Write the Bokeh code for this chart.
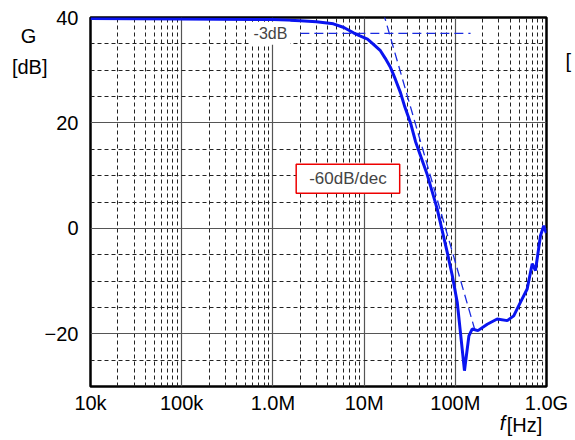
import numpy as np
from bokeh.plotting import figure
from bokeh.models import FixedTicker, Label, Range1d, LinearAxis, LogAxis
from bokeh.embed import file_html
from bokeh.resources import INLINE

# ---- data ----
freq_hz = [1e4, 1e5, 1e6, 2.0e6, 3.0e6, 4.6e6, 6.0e6, 7.65e6, 9.0e6, 10.9e6,
           12.5e6, 15.1e6, 17.0e6, 19.5e6, 22.0e6, 25.1e6, 28.0e6,
           32.3e6, 36.6e6, 49.2e6, 63.1e6, 81.5e6, 92.5e6, 105e6, 119e6, 126e6,
           141e6, 153e6, 177e6, 224e6, 288e6, 371e6, 437e6, 519e6, 614e6,
           697e6, 757e6, 859e6, 933e6, 993e6]
gain_db = [39.8, 39.7, 39.6, 39.4, 39.2, 38.8, 38.1, 37.1, 36.5, 35.9,
           35.0, 33.7, 32.3, 30.5, 28.3, 25.7, 23.0,
           20.0, 16.5, 10.2, 3.8, -4.5, -8.9, -14.0, -22.9, -27.0,
           -20.4, -19.1, -19.4, -18.2, -17.2, -17.5, -16.6, -14.0, -11.5,
           -6.7, -8.0, -1.4, 0.5, -0.9]

asym_f = [16.2e6, 166e6]      # -60 dB/dec asymptote
asym_g = [41.0, -19.6]
m3db_f = [2.0e6, 147e6]       # -3 dB reference line
m3db_g = [37.0, 37.0]

x_ticks = [1e4, 1e5, 1e6, 1e7, 1e8, 1e9]
x_tick_labels = ["10k", "100k", "1.0M", "10M", "100M", "1.0G"]
x_minor = [k * 10.0 ** d for d in range(4, 9) for k in range(2, 10)]
y_ticks = [-20, 0, 20, 40]
y_minor = [-25, -15, -10, -5, 5, 10, 15, 25, 30, 35]

FONT = "Liberation Sans"
W, H = 575, 438

p = figure(width=W, height=H, x_axis_type="log",
           x_range=Range1d(1e4, 1e9), y_range=Range1d(-30, 40),
           output_backend="svg", toolbar_location=None,
           min_border_left=90, min_border_top=17,
           min_border_right=29, min_border_bottom=49)

p.background_fill_color = "white"
p.border_fill_color = "white"
p.outline_line_color = "black"
p.outline_line_width = 2.5


def style_axis(ax, size="20px"):
    ax.axis_line_color = None
    ax.major_tick_out = 0
    ax.major_tick_in = 0
    ax.minor_tick_out = 0
    ax.minor_tick_in = 0
    ax.major_label_text_font = FONT
    ax.major_label_text_font_size = size
    ax.major_label_text_color = "black"


# main axes
p.xaxis.ticker = FixedTicker(ticks=x_ticks, minor_ticks=x_minor)
p.xaxis.major_label_overrides = {float(t): l for t, l in zip(x_ticks, x_tick_labels)}
p.yaxis.ticker = FixedTicker(ticks=y_ticks, minor_ticks=y_minor)
for ax in (p.xaxis, p.yaxis):
    style_axis(ax)
p.xaxis.major_label_standoff = 5
p.yaxis.major_label_standoff = 12

# axis titles drawn as extra (tick-less) axes outside the frame
G_Y, DB_Y = 36.4, 30.65
ytitle = LinearAxis(ticker=FixedTicker(ticks=[G_Y, DB_Y], minor_ticks=[]),
                    major_label_overrides={G_Y: "G\u00a0\u00a0", DB_Y: "[dB]"},
                    major_label_standoff=-6)
style_axis(ytitle)
p.add_layout(ytitle, "left")

F_X, HZ_X = 3.29e8, 5.74e8
xt_f = LogAxis(ticker=FixedTicker(ticks=[F_X], minor_ticks=[]),
               major_label_overrides={F_X: "f"}, major_label_standoff=-5)
style_axis(xt_f)
xt_f.major_label_text_font_style = "italic"
p.add_layout(xt_f, "below")
xt_hz = LogAxis(ticker=FixedTicker(ticks=[HZ_X], minor_ticks=[]),
                major_label_overrides={HZ_X: "[Hz]"}, major_label_standoff=-23)
style_axis(xt_hz)
p.add_layout(xt_hz, "below")

# partially visible title of a second (phase) axis at the right edge
PH_Y = 31.8
rtitle = LinearAxis(ticker=FixedTicker(ticks=[PH_Y], minor_ticks=[]),
                    major_label_overrides={PH_Y: "["}, major_label_standoff=19)
style_axis(rtitle)
p.add_layout(rtitle, "right")

# grids
for g in (p.xgrid, p.ygrid):
    g.grid_line_color = "#555555"
    g.grid_line_width = 1.2
    g.grid_line_alpha = 1.0
    g.minor_grid_line_color = "#222222"
    g.minor_grid_line_dash = "4 3"
    g.minor_grid_line_width = 1

# lines
p.line(m3db_f, m3db_g, line_color="#1a2be0", line_width=1.3, line_dash="9 5")
p.line(asym_f, asym_g, line_color="#1a2be0", line_width=1.3, line_dash="9 5")
p.line(freq_hz, gain_db, line_color="#0a14f0", line_width=3)

# annotations inside the plot
p.add_layout(Label(x=9.4e5, y=37.0, text="-3dB", text_align="center",
                   text_baseline="middle", text_font=FONT, text_font_size="16px",
                   background_fill_color="white", padding=3))
p.add_layout(Label(x=6.65e6, y=9.4, text="-60dB/dec", text_align="center",
                   text_baseline="middle", text_font=FONT, text_font_size="17px",
                   background_fill_color="white", border_line_color="#ee0000",
                   border_line_width=1.5,
                   padding=dict(left=13, right=13, top=5, bottom=5)))

open("out.html", "w").write(file_html(p, INLINE))
